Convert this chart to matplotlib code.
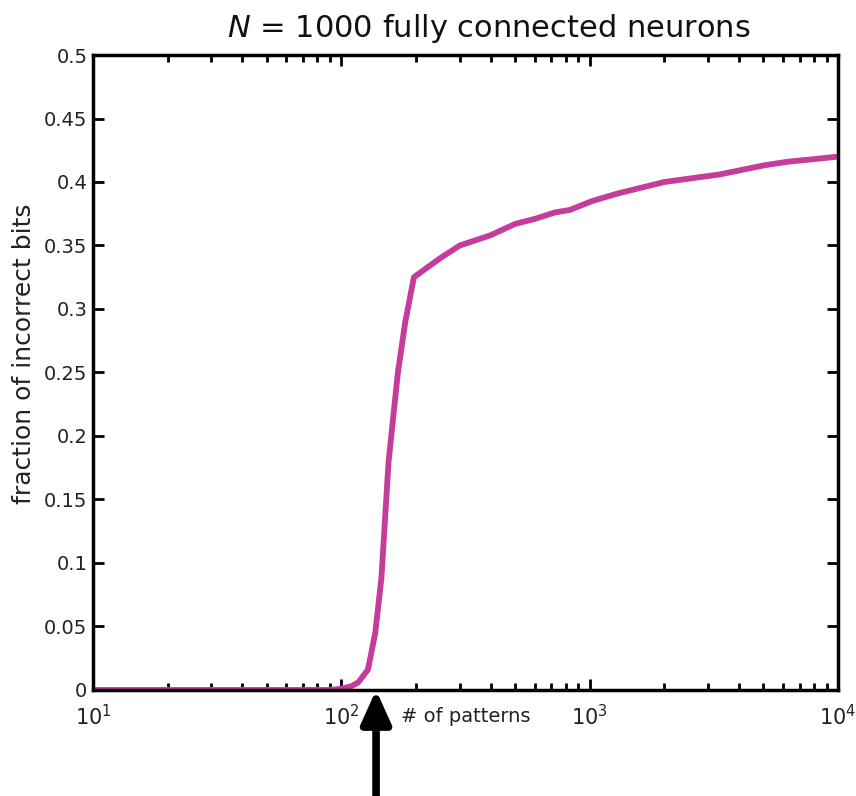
import matplotlib
matplotlib.use("Agg")
import matplotlib.pyplot as plt
import numpy as np

# data
patterns = [10, 20, 30, 40, 50, 60, 70, 80, 90, 100, 110, 117, 128, 137, 145, 155, 169, 181, 196,
            250, 300, 398, 501, 603, 724, 832, 1023, 1300, 2000, 3350, 5000, 6300, 8000, 10000]
frac_bad = [0, 0, 0, 0, 0, 0, 0, 0, 0, 0.001, 0.003, 0.006, 0.016, 0.045, 0.088, 0.18, 0.25, 0.29, 0.325,
            0.34, 0.35, 0.358, 0.367, 0.371, 0.376, 0.378, 0.385, 0.391, 0.400, 0.406, 0.413, 0.416, 0.418, 0.42]
arrow_x = 138
yticks = [0, 0.05, 0.1, 0.15, 0.2, 0.25, 0.3, 0.35, 0.4, 0.45, 0.5]
ytick_labels = ['0', '0.05', '0.1', '0.15', '0.2', '0.25', '0.3', '0.35', '0.4', '0.45', '0.5']

plt.rcParams['font.family'] = 'DejaVu Sans'
plt.rcParams['mathtext.fontset'] = 'dejavusans'

fig = plt.figure(figsize=(8.56, 7.96), dpi=100)
ax = fig.add_axes([0.1086, 0.1332, 0.8704, 0.7977])
ax.plot(patterns, frac_bad, color='#C63C9C', lw=4.2, solid_capstyle='butt')
ax.set_xscale('log')
ax.set_xlim(10, 10000)
ax.set_ylim(0, 0.5)
ax.set_yticks(yticks)
ax.set_yticklabels(ytick_labels)
for s in ax.spines.values():
    s.set_linewidth(2.5)
ax.tick_params(which='both', direction='in', top=True, right=True, width=2, colors='black')
ax.tick_params(which='major', length=8)
ax.tick_params(which='minor', length=5)
ax.tick_params(axis='y', labelsize=14, pad=4)
ax.tick_params(axis='x', labelsize=15, pad=10)
for lab in ax.get_yticklabels() + ax.get_xticklabels():
    lab.set_color('#222222')
fig.text(24 / 856, 1 - 353.5 / 796, 'fraction of incorrect bits', rotation=90,
         ha='center', va='center', fontsize=18, color='#222222')
fig.text(466 / 856, 1 - 716 / 796, '# of patterns', ha='center', va='center',
         fontsize=14, color='#222222')
fig.text(488.5 / 856, 1 - 37 / 796, r'$\mathit{N}$ = 1000 fully connected neurons',
         ha='center', va='baseline', fontsize=22, color='#111111')
ax.annotate('', xy=(arrow_x, 0), xycoords='data', xytext=(arrow_x, -0.17),
            textcoords='data', annotation_clip=False,
            arrowprops=dict(arrowstyle='-|>,head_length=2.0,head_width=0.9', lw=5.5, color='black',
                            shrinkA=0, shrinkB=0))
fig.savefig('out.png', dpi=100)
